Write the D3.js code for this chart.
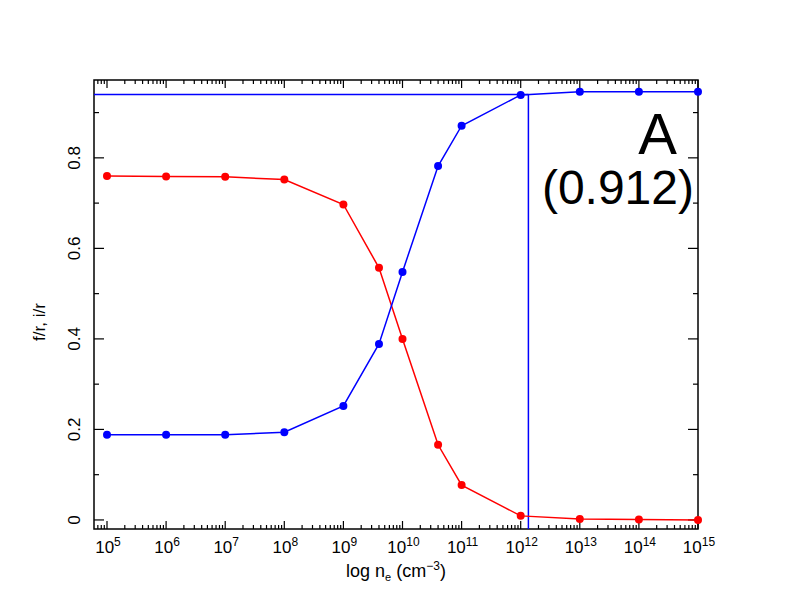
<!DOCTYPE html>
<html>
<head>
<meta charset="utf-8">
<script src="https://cdn.jsdelivr.net/npm/d3@7"></script>
<style>
	body { margin: 0; background: #fff; }
	svg { display: block; font-family: "Liberation Sans", Arial, Helvetica, sans-serif; }
</style>
</head>
<body>
<svg id="chart" width="792" height="612"></svg>
<script>
// density points (cm^-3)
var density = [1e5, 1e6, 1e7, 1e8, 1e9, 4e9, 1e10, 4e10, 1e11, 1e12, 1e13, 1e14, 1e15];
// f/r (red) and i/r (blue)
var fRatio = [0.760, 0.759, 0.758, 0.752, 0.697, 0.557, 0.400, 0.166, 0.077, 0.009, 0.002, 0.001, 0.000];
var iRatio = [0.188, 0.188, 0.188, 0.194, 0.252, 0.389, 0.548, 0.782, 0.871, 0.939, 0.946, 0.946, 0.946];
var xDecades = [5, 6, 7, 8, 9, 10, 11, 12, 13, 14, 15];
var yMajor = [0, 0.2, 0.4, 0.6, 0.8];
var yMinor = [0.1, 0.3, 0.5, 0.7, 0.9];
// marker lines
var markLevel = 0.94, markDensity = 1.35e12;
var panelLabel = "A", panelValue = "(0.912)";

var svg = d3.select("#chart");
var margin = {left: 94, right: 698, top: 80, bottom: 529};

var x = d3.scaleLog().domain([Math.pow(10, 4.78), 1e15]).range([margin.left, margin.right]);
var y = d3.scaleLinear().domain([-0.02, 0.972]).range([margin.bottom, margin.top]);

//Minor log ticks
var xMinor = [];
for (var e = 4; e <= 14; e++){
	for (var m = 2; m <= 9; m++){
		var v = m * Math.pow(10, e);
		if (v >= x.domain()[0] && v <= x.domain()[1]) xMinor.push(v);
	}
}
var xMajor = xDecades.map(function(d){ return Math.pow(10, d); });

var ticks = svg.append("g").attr("stroke", "#000").attr("stroke-width", 1.2);

function xTicks(vals, len){
	vals.forEach(function(v){
		ticks.append("line").attr("x1", x(v)).attr("x2", x(v))
			.attr("y1", margin.bottom).attr("y2", margin.bottom - len);
		ticks.append("line").attr("x1", x(v)).attr("x2", x(v))
			.attr("y1", margin.top).attr("y2", margin.top + len);
	});
}
function yTicks(vals, len){
	vals.forEach(function(v){
		ticks.append("line").attr("y1", y(v)).attr("y2", y(v))
			.attr("x1", margin.left).attr("x2", margin.left + len);
		ticks.append("line").attr("y1", y(v)).attr("y2", y(v))
			.attr("x1", margin.right).attr("x2", margin.right - len);
	});
}
xTicks(xMajor, 8);
xTicks(xMinor, 4);
yTicks(yMajor, 10);
yTicks(yMinor, 5);

//Frame
svg.append("rect")
	.attr("x", margin.left).attr("y", margin.top)
	.attr("width", margin.right - margin.left)
	.attr("height", margin.bottom - margin.top)
	.attr("fill", "none").attr("stroke", "#000").attr("stroke-width", 1.5);

//X tick labels
xDecades.forEach(function(d){
	var t = svg.append("text")
		.attr("x", x(Math.pow(10, d)) + 1)
		.attr("y", 553)
		.attr("text-anchor", "middle")
		.attr("font-size", 17);
	t.append("tspan").text("10");
	t.append("tspan").attr("font-size", 12).attr("dy", -7).text(d);
});

//Y tick labels
yMajor.forEach(function(v){
	svg.append("text")
		.attr("transform", "translate(80," + y(v) + ") rotate(-90)")
		.attr("text-anchor", "middle")
		.attr("font-size", 17)
		.text(v === 0 ? "0" : d3.format(".1f")(v));
});

//Axis titles
var xt = svg.append("text")
	.attr("x", 396).attr("y", 577)
	.attr("text-anchor", "middle")
	.attr("font-size", 18);
xt.append("tspan").text("log n");
xt.append("tspan").attr("font-size", 11).attr("dy", 4).text("e");
xt.append("tspan").attr("dy", -4).text(" (cm");
xt.append("tspan").attr("font-size", 12).attr("dy", -7).text("\u22123");
xt.append("tspan").attr("dy", 7).text(")");

svg.append("text")
	.attr("transform", "translate(45,322) rotate(-90)")
	.attr("text-anchor", "middle")
	.attr("font-size", 17)
	.text("f/r, i/r");

//Marker lines
var plot = svg.append("g");
plot.append("line")
	.attr("x1", margin.left).attr("x2", x(markDensity))
	.attr("y1", y(markLevel)).attr("y2", y(markLevel))
	.attr("stroke", "#0000ff").attr("stroke-width", 1.5);
plot.append("line")
	.attr("x1", x(markDensity)).attr("x2", x(markDensity))
	.attr("y1", y(markLevel)).attr("y2", margin.bottom)
	.attr("stroke", "#0000ff").attr("stroke-width", 1.5);

//Series
var line = d3.line()
	.x(function(d){ return x(d[0]); })
	.y(function(d){ return y(d[1]); });

[[fRatio, "#ff0000"], [iRatio, "#0000ff"]].forEach(function(s){
	var pts = density.map(function(d, i){ return [d, s[0][i]]; });
	plot.append("path")
		.datum(pts)
		.attr("d", line)
		.attr("fill", "none")
		.attr("stroke", s[1])
		.attr("stroke-width", 1.5);
	plot.selectAll(null)
		.data(pts)
		.enter().append("circle")
		.attr("cx", function(d){ return x(d[0]); })
		.attr("cy", function(d){ return y(d[1]); })
		.attr("r", 4)
		.attr("fill", s[1]);
});

//Panel label
svg.append("text")
	.attr("x", 677).attr("y", 154)
	.attr("text-anchor", "end")
	.attr("font-size", 58)
	.text(panelLabel);
svg.append("text")
	.attr("x", 694).attr("y", 204)
	.attr("text-anchor", "end")
	.attr("font-size", 48)
	.text(panelValue);
</script>
</body>
</html>
